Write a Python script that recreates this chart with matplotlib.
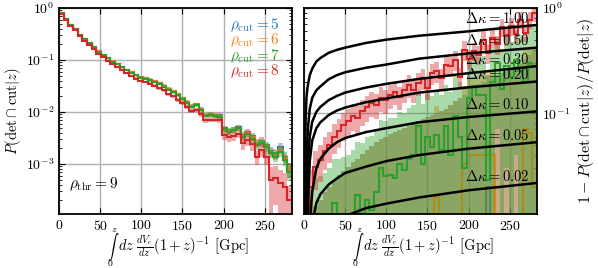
import numpy as np
import matplotlib
matplotlib.use("Agg")
import matplotlib.pyplot as plt

plt.rcParams.update({
    "font.family": "serif",
    "font.serif": ["cmr10"],
    "mathtext.fontset": "cm",
    "axes.formatter.use_mathtext": True,
    "font.size": 10,
    "axes.linewidth": 1.3,
    "xtick.direction": "in",
    "ytick.direction": "in",
    "xtick.top": True,
    "ytick.right": True,
    "xtick.major.size": 4,
    "ytick.major.size": 4,
    "ytick.minor.size": 2.5,
})

# ---- data -------------------------------------------------------------
x_max = 283.0
n_bins = 50
rho_cuts = [5, 6, 7, 8]
colors = ["C0", "C1", "C2", "C3"]

# left panel: P(det & cut | z)
p_cut5 = [0.80, 0.62, 0.47, 0.39, 0.30, 0.25, 0.21, 0.18, 0.146, 0.126,
          0.109, 0.094, 0.084, 0.074, 0.065, 0.058, 0.052, 0.047, 0.045, 0.042,
          0.039, 0.036, 0.032, 0.028, 0.025, 0.022, 0.0185, 0.0155, 0.013, 0.014,
          0.0115, 0.0089, 0.0092, 0.0089, 0.0086, 0.0049, 0.0044, 0.0046, 0.0051, 0.0036,
          0.0041, 0.0034, 0.0026, 0.0028, 0.0023, 0.0018, 0.0016, 0.0021, 0.0014, 0.0008]
p_cut6 = [0.80, 0.62, 0.47, 0.39, 0.30, 0.25, 0.21, 0.18, 0.146, 0.126,
          0.109, 0.094, 0.084, 0.074, 0.065, 0.058, 0.052, 0.047, 0.045, 0.042,
          0.039, 0.036, 0.032, 0.028, 0.025, 0.022, 0.0185, 0.0155, 0.013, 0.014,
          0.0114, 0.0088, 0.0091, 0.0088, 0.0085, 0.0048, 0.0043, 0.0046, 0.0050, 0.0035,
          0.0040, 0.0033, 0.0025, 0.0027, 0.0022, 0.0017, 0.0015, 0.0019, 0.0013, 0.0008]
p_cut7 = [0.80, 0.62, 0.47, 0.39, 0.30, 0.25, 0.21, 0.18, 0.145, 0.125,
          0.108, 0.093, 0.083, 0.073, 0.064, 0.057, 0.051, 0.046, 0.044, 0.041,
          0.038, 0.035, 0.031, 0.027, 0.024, 0.021, 0.018, 0.015, 0.0125, 0.0135,
          0.011, 0.0085, 0.0088, 0.0085, 0.0082, 0.0047, 0.0042, 0.0045, 0.0049, 0.0033,
          0.0038, 0.0031, 0.0023, 0.0025, 0.0021, 0.0016, 0.0014, 0.0017, 0.0012, 0.0007]
p_cut8 = [0.78, 0.60, 0.45, 0.37, 0.285, 0.235, 0.195, 0.165, 0.132, 0.113,
          0.097, 0.083, 0.073, 0.064, 0.056, 0.049, 0.044, 0.040, 0.038, 0.035,
          0.032, 0.029, 0.026, 0.022, 0.020, 0.017, 0.015, 0.0125, 0.0105, 0.011,
          0.009, 0.007, 0.0072, 0.0072, 0.0070, 0.0036, 0.0033, 0.0035, 0.0038, 0.0025,
          0.0029, 0.0024, 0.0014, 0.0019, 0.0014, 0.00049, 0.00055, 0.00043, 0.00037, 0.0002]

# relative errors of the left-panel bands
err_frac_567 = [0.01, 0.01, 0.012, 0.012, 0.014, 0.015, 0.017, 0.02, 0.022, 0.025,
                0.027, 0.03, 0.032, 0.035, 0.038, 0.04, 0.045, 0.05, 0.055, 0.058,
                0.06, 0.062, 0.065, 0.068, 0.07, 0.072, 0.075, 0.08, 0.085, 0.085,
                0.09, 0.1, 0.1, 0.1, 0.1, 0.12, 0.13, 0.13, 0.12, 0.14,
                0.14, 0.15, 0.17, 0.16, 0.17, 0.19, 0.21, 0.19, 0.24, 0.32]
err_frac_8 = [0.01, 0.01, 0.012, 0.012, 0.015, 0.016, 0.018, 0.02, 0.024, 0.027,
              0.03, 0.032, 0.035, 0.038, 0.04, 0.045, 0.05, 0.055, 0.06, 0.062,
              0.065, 0.068, 0.07, 0.075, 0.08, 0.085, 0.09, 0.095, 0.1, 0.1,
              0.11, 0.12, 0.12, 0.12, 0.12, 0.2, 0.2, 0.2, 0.18, 0.25,
              0.22, 0.25, 0.3, 0.28, 0.3, 0.8, 0.7, 0.8, 0.85, 0.9]

# right panel: 1 - P(det & cut | z) / P(det | z)
frac_cut5 = [0.0] * 39 + [0.020] + [0.0] * 10
frac_cut6 = ([0.0] * 28 + [0.016] + [0.0] * 5
             + [0.033, 0.040, 0.040, 0.040, 0.040, 0.040, 0.040]
             + [0.0] * 6 + [0.070, 0.065, 0.020])
frac_cut7 = [0.005, 0.009, 0.011, 0.010, 0.009, 0.010, 0.014, 0.011, 0.010, 0.009,
             0.011, 0.0165, 0.011, 0.015, 0.012, 0.018, 0.030, 0.025, 0.026, 0.024,
             0.033, 0.029, 0.037, 0.040, 0.075, 0.033, 0.060, 0.048, 0.062, 0.045,
             0.075, 0.040, 0.095, 0.060, 0.030, 0.14, 0.18, 0.15, 0.15, 0.023,
             0.20, 0.30, 0.17, 0.28, 0.22, 0.32, 0.25, 0.20, 0.30, 0.28]
frac_cut8 = [0.012, 0.020, 0.031, 0.036, 0.044, 0.050, 0.060, 0.067, 0.078, 0.085,
             0.095, 0.090, 0.105, 0.114, 0.125, 0.120, 0.140, 0.132, 0.148, 0.158,
             0.142, 0.166, 0.185, 0.166, 0.193, 0.215, 0.173, 0.24, 0.25, 0.215,
             0.286, 0.28, 0.32, 0.22, 0.40, 0.33, 0.39, 0.36, 0.50, 0.37,
             0.52, 0.45, 0.66, 0.54, 0.67, 0.56, 0.77, 0.58, 0.77, 0.89]

# absolute errors of the right-panel bands
err_right_567 = [0.008, 0.011, 0.013, 0.015, 0.018, 0.020, 0.023, 0.026, 0.028, 0.031,
                 0.034, 0.037, 0.041, 0.045, 0.049, 0.053, 0.057, 0.060, 0.063, 0.066,
                 0.069, 0.072, 0.076, 0.080, 0.084, 0.088, 0.092, 0.097, 0.10, 0.105,
                 0.11, 0.12, 0.13, 0.14, 0.15, 0.17, 0.18, 0.19, 0.20, 0.21,
                 0.22, 0.23, 0.24, 0.25, 0.26, 0.28, 0.30, 0.33, 0.36, 0.40]
err_frac_right_8 = [0.5, 0.45, 0.4, 0.38, 0.35, 0.33, 0.32, 0.31, 0.3, 0.3,
                    0.29, 0.29, 0.28, 0.28, 0.27, 0.27, 0.26, 0.26, 0.26, 0.25,
                    0.25, 0.25, 0.24, 0.24, 0.24, 0.23, 0.23, 0.23, 0.22, 0.22,
                    0.22, 0.22, 0.21, 0.21, 0.21, 0.21, 0.2, 0.2, 0.2, 0.2,
                    0.2, 0.2, 0.19, 0.19, 0.19, 0.19, 0.18, 0.18, 0.18, 0.18]

# Delta kappa reference curves
delta_kappa = [1.00, 0.50, 0.30, 0.20, 0.10, 0.05, 0.02]
curve_x = [1, 1.5, 2, 3, 4, 5, 7, 10, 15, 20, 30, 40, 50, 75, 100, 140, 200, 283]
curve_y = [
    [0.011, 0.05, 0.09, 0.14, 0.17, 0.19, 0.23, 0.265, 0.31, 0.335, 0.375, 0.40, 0.42, 0.465, 0.50, 0.545, 0.60, 0.69],
    [0.001, 0.003, 0.007, 0.025, 0.055, 0.075, 0.11, 0.14, 0.165, 0.18, 0.21, 0.23, 0.245, 0.27, 0.29, 0.33, 0.37, 0.42],
    [0.0005, 0.001, 0.002, 0.007, 0.02, 0.035, 0.06, 0.083, 0.103, 0.115, 0.133, 0.146, 0.157, 0.175, 0.19, 0.212, 0.24, 0.28],
    [0.0002, 0.0005, 0.001, 0.003, 0.007, 0.015, 0.035, 0.055, 0.072, 0.082, 0.096, 0.106, 0.113, 0.127, 0.138, 0.157, 0.176, 0.20],
    [0.0001, 0.0002, 0.0005, 0.001, 0.002, 0.004, 0.009, 0.018, 0.030, 0.037, 0.046, 0.053, 0.058, 0.066, 0.072, 0.082, 0.092, 0.104],
    [0.0001, 0.0001, 0.0002, 0.0003, 0.0005, 0.001, 0.003, 0.009, 0.014, 0.017, 0.021, 0.024, 0.027, 0.031, 0.035, 0.040, 0.046, 0.053],
    [0.0001, 0.0001, 0.0001, 0.0002, 0.0003, 0.0005, 0.001, 0.002, 0.004, 0.006, 0.008, 0.0095, 0.0105, 0.0125, 0.0138, 0.0158, 0.0185, 0.0217],
]

# ---- plotting ---------------------------------------------------------
edges = np.linspace(0, x_max, n_bins + 1)
floor = 1e-7


def integral_xlabel(ax):
    # integral with limits above/below, then the integrand
    tr = ax.transAxes
    ax.text(0.232, -0.16, r"$\int$", fontsize=8, ha="center", va="center",
            transform=tr, clip_on=False)
    ax.text(0.238, -0.078, r"$z$", fontsize=7, ha="center", va="center",
            transform=tr, clip_on=False)
    ax.text(0.221, -0.238, r"$0$", fontsize=7, ha="center", va="center",
            transform=tr, clip_on=False)
    ax.text(0.535, -0.158, r"$dz\ \frac{dV_c}{dz}(1+z)^{-1}$ [Gpc]",
            fontsize=10.5, ha="center", va="center", transform=tr, clip_on=False)


fig = plt.figure(figsize=(5.98, 2.68), dpi=100)
ax1 = fig.add_axes([59 / 598, 54 / 268, 233 / 598, 206 / 268])
ax2 = fig.add_axes([304 / 598, 54 / 268, 233 / 598, 206 / 268])

left_series = [p_cut5, p_cut6, p_cut7, p_cut8]
left_errs = [err_frac_567, err_frac_567, err_frac_567, err_frac_8]
for vals, ef, c in zip(left_series, left_errs, colors):
    v = np.array(vals)
    e = v * np.array(ef)
    lo = np.clip(v - e, floor, None)
    ax1.stairs(v + e, edges, baseline=lo, fill=True, color=c, alpha=0.4, lw=0)
    ax1.stairs(v, edges, baseline=None, color=c, lw=1.5)

ax1.set_yscale("log")
ax1.set_xlim(0, x_max)
ax1.set_ylim(1.1e-4, 1)
ax1.set_xticks([0, 50, 100, 150, 200, 250])
ax1.grid(True, which="major", color="#b0b0b0", lw=1)
ax1.set_axisbelow(True)
ax1.set_ylabel(r"$P(\mathrm{det} \cap \mathrm{cut}|z)$", fontsize=10.5, labelpad=2)
integral_xlabel(ax1)
for i, (rc, c) in enumerate(zip(rho_cuts, colors)):
    ax1.text(0.948, 0.917 - 0.075 * i, r"$\rho_\mathrm{cut} = %d$" % rc,
             color=c, ha="right", va="center", fontsize=11,
             transform=ax1.transAxes)
ax1.text(0.045, 0.146, r"$\rho_\mathrm{thr} = 9$", ha="left", va="center",
         fontsize=11, transform=ax1.transAxes)

right_series = [frac_cut5, frac_cut6, frac_cut7, frac_cut8]
for vals, c in zip(right_series, colors):
    v = np.array(vals)
    if vals is frac_cut8:
        e = v * np.array(err_frac_right_8)
    else:
        e = np.array(err_right_567)
    lo = np.clip(v - e, floor, None)
    ax2.stairs(v + e, edges, baseline=lo, fill=True, color=c, alpha=0.4, lw=0)
    ax2.stairs(np.clip(v, floor, None), edges, baseline=None, color=c, lw=1.5)

for dk, cy in zip(delta_kappa, curve_y):
    ax2.plot(curve_x, cy, color="k", lw=1.8, zorder=5)
    ax2.text(195, cy[-1] * 1.16, r"$\Delta\kappa = %.2f$" % dk, ha="left",
             va="center", fontsize=10.5, zorder=6)

ax2.set_yscale("log")
ax2.set_xlim(0, x_max)
ax2.set_ylim(0.011, 1)
ax2.set_xticks([0, 50, 100, 150, 200, 250])
ax2.grid(True, which="major", color="#b0b0b0", lw=1)
ax2.set_axisbelow(True)
ax2.yaxis.set_label_position("right")
ax2.yaxis.tick_right()
ax2.tick_params(axis="y", which="both", left=True, right=True)
ax2.set_ylabel(r"$1 - P(\mathrm{det} \cap \mathrm{cut}|z)/P(\mathrm{det}|z)$",
               fontsize=11.5, labelpad=4)
integral_xlabel(ax2)

fig.savefig("out.png", dpi=100)
